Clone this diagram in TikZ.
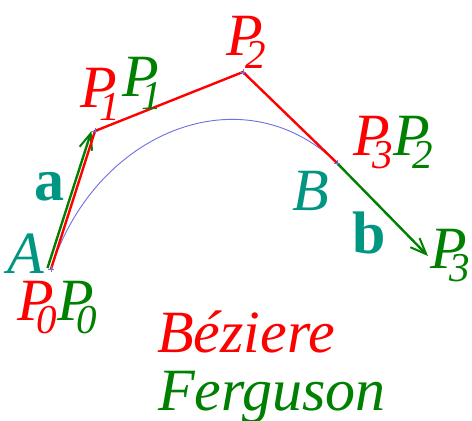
\documentclass[tikz,border=0pt]{standalone}
\usepackage{fontspec}
\setmainfont{Liberation Serif}
\usetikzlibrary{arrows.meta}
\definecolor{bred}{RGB}{255,0,0}
\definecolor{fgreen}{RGB}{0,128,0}
\definecolor{tealc}{RGB}{0,150,130}
\definecolor{curveblue}{RGB}{110,110,230}
\newcommand\PSub[1]{P\kern-17pt\raisebox{-13pt}{\fontsize{41}{41}\selectfont #1}}
\begin{document}
\begin{tikzpicture}[x=1pt,y=-1pt,
  lbl/.style={inner sep=0pt,anchor=base west,font=\fontsize{60}{60}\selectfont\itshape},
  vec/.style={inner sep=0pt,anchor=base west,font=\fontsize{60}{60}\selectfont\bfseries\upshape,text=tealc},
  poly/.style={draw=bred,line width=2.4pt,line join=miter},
  tang/.style={draw=fgreen,line width=2.4pt,-{Straight Barb[length=16pt,width=13pt,line width=2pt]}},
  crv/.style={draw=curveblue,line width=0.9pt},
  mk/.style={draw=curveblue,line width=0.7pt}]
\useasboundingbox (0,0) rectangle (472,421);
\fill[white] (0,0) rectangle (472,421);
% control points
\coordinate (P0) at (51,269);
\coordinate (P1) at (95,131);
\coordinate (P2) at (243,72);
\coordinate (P3) at (337,163);
\coordinate (Aa) at (47.5,268);
\coordinate (Ta) at (91.5,131);
\coordinate (Tb) at (428,256);
% curve
\draw[crv] (P0) .. controls (P1) and (P2) .. (P3);
% tangent vectors
\draw[tang] (Aa) -- (Ta);
% control polygon
\draw[poly] (P0) -- (P1) -- (P2) -- (P3);
\draw[tang] (P3) -- (Tb);
% point markers
\foreach \p in {P0,P1,P2,P3}{
  \draw[mk] ([xshift=-3pt]\p) -- ([xshift=3pt]\p) ([yshift=-3pt]\p) -- ([yshift=3pt]\p);
}
% labels
\node[lbl,text=bred] (lP1r) at (80,107) {\PSub{1}};
\node[lbl,text=fgreen] (lP1g) at (122,96) {\PSub{1}};
\node[lbl,text=bred] (lP2r) at (226,55) {\PSub{2}};
\node[lbl,text=bred] (lP3r) at (353,155) {\PSub{3}};
\node[lbl,text=fgreen] (lP2g) at (393,155) {\PSub{2}};
\node[lbl,text=fgreen] (lP3g) at (430,268) {\PSub{3}};
\node[lbl,text=bred] (lP0r) at (17,320) {\PSub{0}};
\node[lbl,text=fgreen] (lP0g) at (57,320) {\PSub{0}};
\node[lbl,text=tealc] (lA) at (7,273) {A};
\node[lbl,text=tealc] (lB) at (292,210) {B};
\node[vec] (la) at (34,200) {a};
\node[vec] (lb) at (352,253) {b};
\node[lbl,text=bred] (tBez) at (157,352) {Béziere};
\node[lbl,text=fgreen] (tFer) at (158,410) {Ferguson};
\end{tikzpicture}
\end{document}
